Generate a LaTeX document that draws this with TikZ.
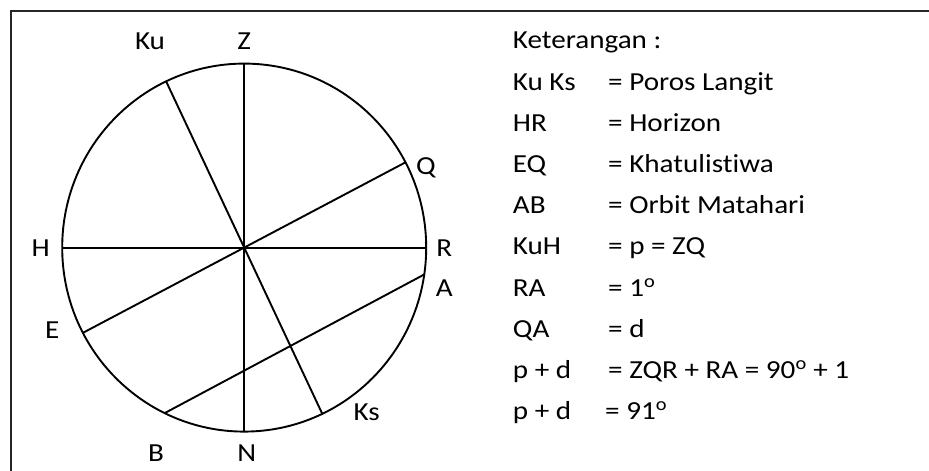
\documentclass[tikz,border=0pt]{standalone}
\usepackage{fontspec}
\setmainfont{Carlito}[FakeStretch=1.12, Ligatures=NoCommon]
\usepackage{tikz}
\usetikzlibrary{
  calc,        % 坐标计算
  positioning  % 节点相对定位
}
\tikzset{
  sky line/.style={
    line width=1.9pt,
    color=black
  },
  frame line/.style={
    line width=1.9pt,
    color=black!85
  },
  point label/.style={
    font=\fontsize{26pt}{31pt}\selectfont,
    inner sep=0pt,
    anchor=base
  },
  legend text/.style={
    font=\fontsize{26pt}{31pt}\selectfont,
    inner sep=0pt,
    anchor=base west
  }
}

\begin{document}
\begin{tikzpicture}[x=1pt, y=1pt]
    \useasboundingbox (0,0) rectangle (929,471);

    % 1. 外框 (只见上边与左边)
    \draw[frame line] (11,0) |- (929,460);

    % 2. 天球 (圆心 O)
    \coordinate (O) at (244.2,223.4);
    \draw[sky line] (O) ellipse [x radius=182, y radius=184];

    % 圆上各点
    \coordinate (Z)  at ($(O)+(90:182 and 184)$);
    \coordinate (N)  at ($(O)+(270:182 and 184)$);
    \coordinate (H)  at ($(O)+(180:182 and 184)$);
    \coordinate (R)  at ($(O)+(0:182 and 184)$);
    \coordinate (Ku) at ($(O)+(115.4:182 and 184)$);
    \coordinate (Ks) at ($(O)+(295.4:182 and 184)$);
    \coordinate (Q)  at ($(O)+(27.6:182 and 184)$);
    \coordinate (E)  at ($(O)+(207.6:182 and 184)$);
    \coordinate (A)  at ($(O)+(-8.4:182 and 184)$);
    \coordinate (B)  at ($(O)+(244.1:182 and 184)$);

    % 3. 直径与轨道
    \draw[sky line] (Z) -- (N);
    \draw[sky line] (H) -- (R);
    \draw[sky line] (Ku) -- (Ks);
    \draw[sky line] (E) -- (Q);
    \draw[sky line] (A) -- (B);

    % 4. 点的标签
    \node[point label] (lKu) at (150,421)    {Ku};
    \node[point label] (lZ)  at (244.3,421)  {Z};
    \node[point label] (lQ)  at (426,296)    {Q};
    \node[point label] (lH)  at (40.7,214.3) {H};
    \node[point label] (lR)  at (444.3,214.3) {R};
    \node[point label] (lA)  at (444.3,174.3) {A};
    \node[point label] (lE)  at (52.3,132.7) {E};
    \node[point label] (lKs) at (366.7,50.3) {Ks};
    \node[point label] (lB)  at (156,9.3)    {B};
    \node[point label] (lN)  at (246.7,9.3)  {N};

    % 5. 说明 (Keterangan)
    \node[legend text] (ket) at (512.7,422) {Keterangan :};
    \node[legend text] (k1) at (512.7,380.8) {Ku Ks};
    \node[legend text] (v1) at (608,380.8)   {= Poros Langit};
    \node[legend text] (k2) at (512.7,339.6) {HR};
    \node[legend text] (v2) at (608,339.6)   {= Horizon};
    \node[legend text] (k3) at (512.7,298.4) {EQ};
    \node[legend text] (v3) at (608,298.4)   {= Khatulistiwa};
    \node[legend text] (k4) at (512.7,257.2) {AB};
    \node[legend text] (v4) at (608,257.2)   {= Orbit Matahari};
    \node[legend text] (k5) at (512.7,216)   {KuH};
    \node[legend text] (v5) at (608,216)     {= p = ZQ};
    \node[legend text] (k6) at (512.7,174.8) {RA};
    \node[legend text] (v6) at (608,174.8)   {= 1\textsuperscript{o}};
    \node[legend text] (k7) at (512.7,133.6) {QA};
    \node[legend text] (v7) at (608,133.6)   {= d};
    \node[legend text] (k8) at (512.7,92.4)  {p + d};
    \node[legend text] (v8) at (608,92.4)    {= ZQR + RA = 90\textsuperscript{o} + 1};
    \node[legend text] (k9) at (512.7,51.2)  {p + d};
    \node[legend text] (v9) at (605,51.2)    {= 91\textsuperscript{o}};

  \end{tikzpicture}
\end{document}
